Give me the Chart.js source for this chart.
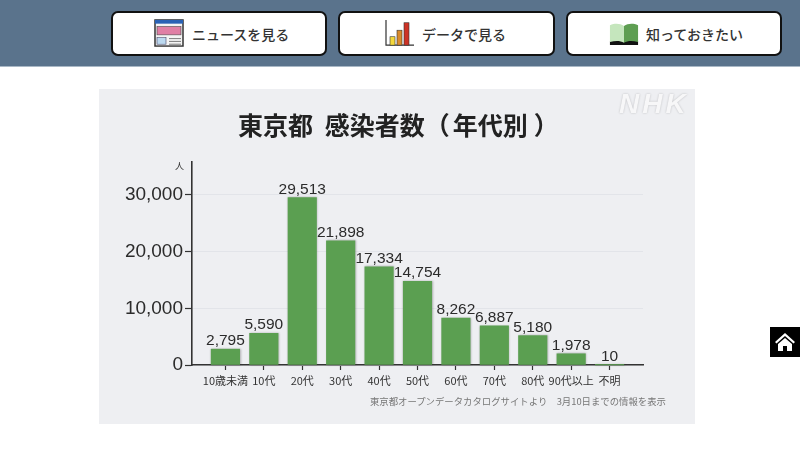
<!DOCTYPE html>
<html lang="ja">
<head>
<meta charset="utf-8">
<title>東京都 感染者数（年代別）</title>
<script src="https://cdn.jsdelivr.net/npm/chart.js@4"></script>
<style>
  html, body { margin: 0; padding: 0; background: #fff; overflow: hidden; }
  body { width: 800px; height: 450px; position: relative; font-family: "Noto Sans CJK JP", sans-serif; }
  .header { position: absolute; left: 0; top: 0; width: 800px; height: 66px; background: #5a738c; border-bottom: 1px solid #a9b8c6; }
  .btn { position: absolute; top: 11px; height: 41px; background: #fff; border: 2px solid #111; border-radius: 7px; box-sizing: content-box; }
  .btn span { position: absolute; top: 0; line-height: 42px; font-size: 14px; font-weight: 500; color: #333; white-space: nowrap; }
  .btn svg { position: absolute; top: 6px; }
  .panel { position: absolute; left: 99px; top: 89px; width: 596px; height: 335px; background: #eeeff2; }
  .panel canvas { position: absolute; left: 0; top: 0; filter: blur(0.35px); }
  .title { position: absolute; left: 139px; top: 17px; font-size: 25px; font-weight: 700; line-height: 36px; color: #222; white-space: pre; word-spacing: 6px; }
  .title i { font-style: normal; margin-left: 3px; }
  .title b { font-weight: 700; margin-left: 6px; }
  .nhk { position: absolute; left: 520px; top: 0; font: italic 700 28px "Liberation Sans", sans-serif; color: #f7f7f8; letter-spacing: 3px; line-height: 29px; text-shadow: 0 0 2px #b5b6b9; }
  .unit { position: absolute; left: 76px; top: 71px; font-size: 9px; line-height: 12px; color: #333; }
  .source { position: absolute; right: 29px; top: 305px; font-size: 9.4px; line-height: 14px; color: #777; white-space: nowrap; }
  .home { position: absolute; left: 770px; top: 327px; width: 30px; height: 30px; background: #000; }
</style>
</head>
<body>
<div class="header">
  <div class="btn" style="left:111px;width:212px">
    <svg style="left:41px" width="30" height="28" viewBox="0 0 30 30" preserveAspectRatio="none">
      <rect x="1" y="1" width="28" height="28" fill="#f4f4f4" stroke="#333" stroke-width="1.5"/>
      <rect x="1" y="1" width="28" height="4" fill="#2a62b5"/>
      <rect x="3" y="8" width="24" height="9" fill="#e07fa5" stroke="#444" stroke-width="0.6"/>
      <rect x="3" y="20" width="9" height="7" fill="#bcd9f0" stroke="#446" stroke-width="0.6"/>
      <path d="M15 21h12M15 24h12M15 27h12" stroke="#777" stroke-width="1"/>
    </svg>
    <span style="left:79px">ニュースを見る</span>
  </div>
  <div class="btn" style="left:338px;width:213px">
    <svg style="left:45px" width="30" height="28" viewBox="0 0 30 30" preserveAspectRatio="none">
      <path d="M1 1V28H29" fill="none" stroke="#333" stroke-width="1.2"/>
      <rect x="5" y="19" width="5" height="9" fill="#f4d83c" stroke="#333" stroke-width="0.6"/>
      <rect x="12" y="12" width="5" height="16" fill="#d98a2b" stroke="#333" stroke-width="0.6"/>
      <rect x="19" y="4" width="5" height="24" fill="#cc3326" stroke="#333" stroke-width="0.6"/>
    </svg>
    <span style="left:82px">データで見る</span>
  </div>
  <div class="btn" style="left:566px;width:212px">
    <svg style="left:41px;top:10px" width="30" height="22" viewBox="0 0 32 30" preserveAspectRatio="none">
      <path d="M1 25C6 22 11 22 16 25C21 22 26 22 31 25V30H1Z" fill="#111"/>
      <path d="M1 3C7 0 12 1 16 4V27C12 24 7 24 1 26Z" fill="#c5e6bd"/>
      <path d="M31 3C25 0 20 1 16 4V27C20 24 25 24 31 26Z" fill="#5e9e52"/>
    </svg>
    <span style="left:78px">知っておきたい</span>
  </div>
</div>

<div class="panel">
  <canvas id="chart" width="596" height="335"></canvas>
  <div class="title">東京都 感染者数（<i>年代別</i><b>）</b></div>
  <div class="nhk">NHK</div>
  <div class="unit">人</div>
  <div class="source">東京都オープンデータカタログサイトより　3月10日までの情報を表示</div>
</div>

<div class="home">
  <svg width="30" height="30" viewBox="0 0 30 30">
    <path d="M15 6L5 15l1.5 1.5L15 9l8.5 7.5L25 15Z" fill="#fff"/>
    <path d="M8 17l7-6 7 6v7h-5v-5h-4v5H8Z" fill="#fff"/>
  </svg>
</div>

<script>
const categories = ["10歳未満", "10代", "20代", "30代", "40代", "50代", "60代", "70代", "80代", "90代以上", "不明"];
const infected = [2795, 5590, 29513, 21898, 17334, 14754, 8262, 6887, 5180, 1978, 10];
const yTickValues = [0, 10000, 20000, 30000];

const axisColor = "#333333";
const cjkFont = '"Noto Sans CJK JP", sans-serif';
const latinFont = '"Liberation Sans", sans-serif';

// draws the number above each bar
const valueLabels = {
  id: "valueLabels",
  afterDatasetsDraw(chart) {
    const ctx = chart.ctx;
    const bars = chart.getDatasetMeta(0).data;
    ctx.save();
    ctx.font = "15.5px " + latinFont;
    ctx.fillStyle = "#2b2b2b";
    ctx.textAlign = "center";
    ctx.textBaseline = "alphabetic";
    bars.forEach((bar, i) => {
      ctx.fillText(infected[i].toLocaleString("en-US"), bar.x, bar.y - 4);
    });
    ctx.restore();
  },
};

// soft edge round the bars
const barShadow = {
  id: "barShadow",
  beforeDatasetsDraw(chart) {
    chart.ctx.save();
    chart.ctx.shadowColor = "rgba(60,60,60,0.35)";
    chart.ctx.shadowBlur = 2;
    chart.ctx.shadowOffsetX = 0.5;
  },
  afterDatasetsDraw(chart) {
    chart.ctx.restore();
  },
};

new Chart(document.getElementById("chart"), {
  type: "bar",
  data: {
    datasets: [
      {
        data: infected.map((v, i) => ({ x: i, y: v })),
        backgroundColor: "#5b9f51",
        barThickness: 28.5,
      },
    ],
  },
  plugins: [barShadow, valueLabels],
  options: {
    responsive: false,
    animation: false,
    clip: false,
    layout: { padding: { top: 73, right: 52, left: 0, bottom: 0 } },
    plugins: {
      legend: { display: false },
      tooltip: { enabled: false },
      title: { display: false },
    },
    scales: {
      x: {
        type: "linear",
        offset: false,
        min: -0.87,
        max: 10.87,
        afterBuildTicks: (scale) => {
          scale.ticks = categories.map((c, i) => ({ value: i }));
        },
        afterFit: (scale) => {
          scale.height = 59;
        },
        grid: { offset: false, drawOnChartArea: false, tickLength: 5, tickColor: axisColor, tickWidth: 1.2 },
        border: { color: axisColor, width: 1.6 },
        ticks: {
          autoSkip: false,
          maxRotation: 0,
          padding: 4,
          color: "#333",
          font: { family: cjkFont, size: 11 },
          callback: (v) => categories[v],
        },
      },
      y: {
        min: 0,
        max: 35800,
        afterBuildTicks: (scale) => {
          scale.ticks = yTickValues.map((v) => ({ value: v }));
        },
        afterFit: (scale) => {
          scale.width = 93;
        },
        grid: { color: "#e2e4e9", lineWidth: 1, tickLength: 7, tickColor: axisColor, tickWidth: 1.2 },
        border: { color: axisColor, width: 1.6 },
        ticks: {
          padding: 2,
          color: "#2b2b2b",
          font: { family: latinFont, size: 19 },
          callback: (v) => v.toLocaleString("en-US"),
        },
      },
    },
  },
});
</script>
</body>
</html>
